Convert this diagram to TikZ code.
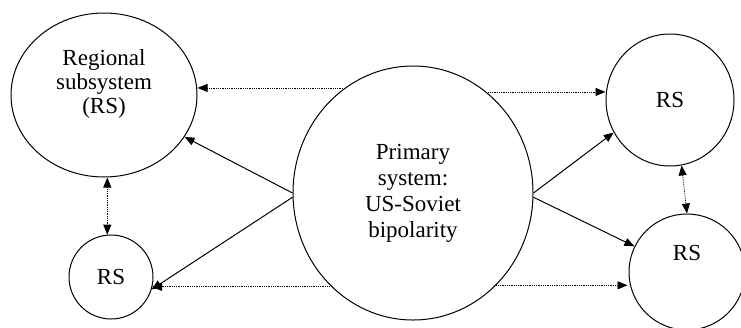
\documentclass[tikz,border=0pt]{standalone}
\usepackage{fontspec}
\setmainfont{Liberation Serif}
\usetikzlibrary{shapes.geometric,arrows.meta}
\begin{document}
\begin{tikzpicture}[x=1pt,y=-1pt,
  every node/.style={font=\fontsize{23}{24}\selectfont},
  sysell/.style={draw,ellipse,line width=1pt,fill=white,inner sep=0pt},
  tip/.style={-{Triangle[length=10pt,width=8pt]}},
  link/.style={tip,line width=1pt},
  dlink/.style={tip,densely dotted,line width=0.8pt},
  ddlink/.style={{Triangle[length=10pt,width=8pt]}-{Triangle[length=10pt,width=8pt]},densely dotted,line width=0.8pt}]
\useasboundingbox (0,0) rectangle (741,327);
\node[sysell,minimum width=186pt,minimum height=164pt,
  label={[align=center,yshift=11pt,font=\fontsize{23}{24}\selectfont]center:Regional\\subsystem\\(RS)}] (reg) at (104,95) {};
\node[sysell,minimum width=84pt,minimum height=84pt] (rs1) at (111,277) {RS};
\node[sysell,minimum width=128pt,minimum height=132pt] (rs2) at (670,100) {RS};
\node[sysell,minimum width=116pt,minimum height=116pt,
  label={[yshift=19pt,font=\fontsize{23}{24}\selectfont]center:RS}] (rs3) at (687,272) {};
\node[sysell,minimum width=240pt,minimum height=254pt,align=center,
  font=\fontsize{23}{26}\selectfont] (prim) at (413,193) {Primary\\system:\\US-Soviet\\bipolarity};
% solid influence arrows
\draw[link] (prim.180) -- (reg);
\draw[link] (prim.182) -- (rs1.343);
\draw[link] (prim.0) -- (rs2.210);
\draw[link] (prim.358) -- (rs3.154);
% dotted horizontal arrows
\draw[dlink] (prim.123) -- (reg.east |- prim.123);
\draw[dlink] (prim.54) -- (rs2.west |- prim.54);
\draw[dlink] (prim.229.6) -- ([xshift=-1.5pt]rs1.east |- prim.229.6);
\draw[dlink] (prim.312) -- ([xshift=-1pt]rs3.west |- prim.312);
% dotted vertical arrows
\draw[ddlink] (rs1.95 |- reg.south) -- (rs1.95);
\draw[ddlink] (rs2.280) -- (rs3.north);
\end{tikzpicture}
\end{document}
